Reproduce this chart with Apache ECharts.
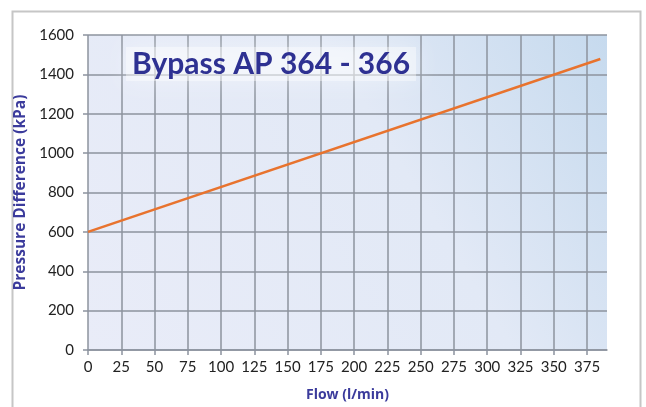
<!DOCTYPE html>
<html>
<head>
<meta charset="utf-8">
<script src="https://cdn.jsdelivr.net/npm/echarts@6/dist/echarts.min.js"></script>
<style>
  html, body { margin: 0; padding: 0; background: #fff; }
  #chart { width: 646px; height: 407px; }
</style>
</head>
<body>
<div id="chart"></div>
<script>
// values
var flow = [0, 385];            // l/min
var pressure = [600, 1478];     // kPa
var xTicks = { min: 0, max: 390, step: 25 };
var yTicks = { min: 0, max: 1600, step: 200 };

var chartTitle = 'Bypass AP 364 - 366';
var xName = 'Flow (l/min)';
var yName = 'Pressure Difference (kPa)';

var font = 'Lato, "Open Sans", sans-serif';
var nameFont = '"Open Sans", Lato, sans-serif';
var gridColor = '#8c939e';

var myChart = echarts.init(document.getElementById('chart'));

let option = {
  animation: false,
  textStyle: { fontFamily: font },
  title: {
    text: chartTitle,
    left: 126,
    top: 47,
    padding: [2, 6],
    backgroundColor: 'rgba(255,255,255,0.4)',
    shadowColor: 'rgba(255,255,255,0.9)',
    shadowBlur: 22,
    textStyle: {
      fontFamily: font,
      fontSize: 30,
      fontWeight: 'bold',
      color: '#2e3192'
    }
  },
  graphic: [
    {
      type: 'rect',
      left: 10,
      top: 9,
      shape: { width: 628, height: 420 },
      style: { fill: 'none', stroke: '#c6c6c6', lineWidth: 2 },
      z: -10
    }
  ],
  grid: {
    left: 88,
    right: 39,
    top: 35,
    bottom: 57,
    outerBoundsMode: 'none',
    show: true,
    borderWidth: 0,
    backgroundColor: new echarts.graphic.LinearGradient(0, 1, 1, 0, [
      { offset: 0, color: '#e9ecf8' },
      { offset: 0.6, color: '#e2e9f6' },
      { offset: 1, color: '#c6daee' }
    ])
  },
  xAxis: {
    type: 'value',
    min: xTicks.min,
    max: xTicks.max,
    interval: xTicks.step,
    name: xName,
    nameLocation: 'middle',
    nameGap: 38,
    nameTextStyle: { color: '#3b3b9c', fontSize: 14, fontWeight: 'bold', fontFamily: nameFont },
    axisLine: { show: true, lineStyle: { color: gridColor, width: 1.5 } },
    axisTick: { show: true, length: 5, lineStyle: { color: gridColor, width: 1.5 } },
    axisLabel: {
      color: '#222',
      fontSize: 15,
      margin: 10,
      showMaxLabel: false,
      formatter: function (v) { return v % 25 === 0 ? String(v) : ''; }
    },
    splitLine: {
      show: true,
      showMinLine: true,
      showMaxLine: false,
      lineStyle: { color: gridColor, width: 1.5 }
    }
  },
  yAxis: {
    type: 'value',
    min: yTicks.min,
    max: yTicks.max,
    interval: yTicks.step,
    name: yName,
    nameLocation: 'middle',
    nameGap: 54,
    nameTextStyle: { color: '#3b3b9c', fontSize: 15.5, fontWeight: 'bold', fontFamily: nameFont },
    axisLine: { show: false },
    axisTick: { show: true, length: 5, lineStyle: { color: gridColor, width: 1.5 } },
    axisLabel: {
      color: '#222',
      fontSize: 15,
      margin: 14,
      formatter: function (v) { return String(v); }
    },
    splitLine: { show: true, lineStyle: { color: gridColor, width: 1.5 } }
  },
  series: [
    {
      name: 'Bypass',
      type: 'line',
      data: flow.map(function (f, i) { return [f, pressure[i]]; }),
      showSymbol: false,
      lineStyle: { color: '#e8732e', width: 2.5 },
      z: 5
    }
  ]
};

myChart.setOption(option);
</script>
</body>
</html>
